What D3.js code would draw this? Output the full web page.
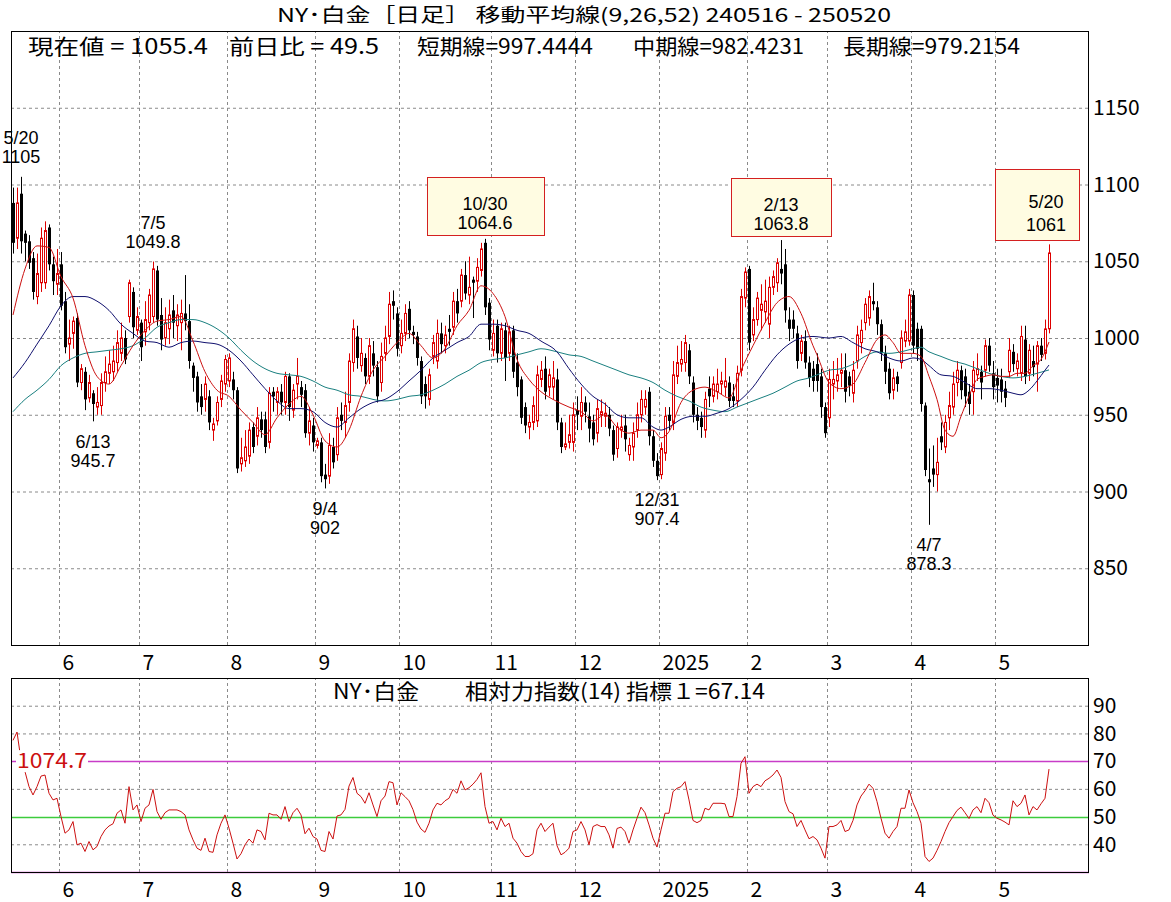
<!DOCTYPE html>
<html>
<head>
<meta charset="utf-8">
<script src="https://cdn.jsdelivr.net/npm/d3@7/dist/d3.min.js"></script>
<style>
  body { margin: 0; background: #fff; }
  svg { display: block; }
</style>
</head>
<body>
<svg id="chart"></svg>
<script>
// NY platinum, daily candles 2024-05-16 .. 2025-05-20, MA(9,26,52) + RSI(14)
var holidays = ['2024-07-04', '2024-12-25', '2025-01-01', '2025-04-18'];

// [open, high, low, close], one row per trading day
var candles = [
  [1088,1098,1055,1062],[1065,1098,1058,1088],[1094,1105,1055,1063],[1068,1070,1050,1062],[1063,1067,1045,1049],
  [1052,1056,1025,1030],[1027,1055,1022,1042],[1036,1072,1030,1065],[1036,1076,1032,1070],[1072,1074,1044,1048],
  [1048,1053,1028,1037],[1035,1058,1028,1042],[1048,1056,1018,1021],[1024,1030,990,994],[996,1012,985,1000],
  [1003,1014,993,1011],[1013,1016,968,971],[971,983,966,980],[978,981,953,960],[961,976,958,971],
  [964,966,945.7,957],[955,968,950,958],[956,977,950,971],[971,988,965,978],[977,992,970,983],
  [978,995,972,985],[984,1005,978,997],[990,1010,985,1000],[1000,1005,983,986],[1014,1038,1010,1036],
  [1030,1033,1000,1007],[1005,1020,1002,1014],[1010,1012,985,994],[1004,1024,995,1012],[1010,1032,1005,1028],
  [1014,1049.8,1010,1045],[1044,1047,1008,1012],[1015,1026,992,999],[1000,1020,995,1010],[1006,1025,996,1015],
  [1018,1028,1000,1010],[1008,1022,998,1015],[1010,1025,992,1016],[1016,1041,1005,1011],[1011,1022,980,985],
  [982,984,965,974],[975,978,952,958],[962,970,950,955],[960,975,952,970],[962,966,940,945],
  [940,948,933,944],[946,962,943,958],[960,976,955,972],[970,989,965,986],[972,990,968,987],
  [973,978,960,966],[966,968,912,915],[918,935,913,922],[920,940,916,929],[923,945,918,940],
  [942,945,925,929],[936,955,930,948],[947,952,935,940],[947,952,925,929],[932,968,928,964],
  [965,968,952,962],[958,968,950,965],[965,970,950,958],[958,978,950,975],[975,977,946,955],
  [953,970,948,966],[970,987,960,975],[968,972,955,963],[966,970,935,938],[938,955,930,946],
  [943,948,926,932],[930,935,928,933],[932,935,906,910],[911,918,902,908],[910,938,905,930],
  [929,935,915,919],[924,955,920,948],[950,958,940,946],[945,965,935,956],[958,990,952,985],
  [984,1012,978,1006],[1001,1008,980,987],[982,1000,978,990],[987,990,970,975],[975,1000,970,995],
  [990,998,975,982],[981,985,958,962],[971,997,965,988],[990,1008,985,1000],[1001,1030,996,1022],
  [1024,1031,1012,1021],[1016,1020,988,993],[995,1012,990,1003],[1003,1022,998,1016],[1019,1024,1000,1005],
  [1004,1008,996,1002],[1001,1004,982,987],[985,988,957,962],[970,975,954,962],[960,980,956,976],
  [988,1002,983,997],[985,1012,980,1003],[1003,1010,990,996],[995,1008,990,1002],[1006,1015,995,1004],
  [1007,1030,1002,1024],[1024,1032,1010,1016],[1024,1045,1020,1041],[1041,1050,1025,1029],[1028,1053,1022,1033],
  [1038,1040,1013,1036],[1037,1052,1030,1046],[1044,1062,1040,1058],[1062,1064.6,1015,1020],[1023,1026,992,999],
  [992,1012,988,1003],[1008,1012,984,990],[990,1010,985,1006],[1005,1010,972,987],[990,1008,985,1004],
  [1005,1008,974,978],[984,990,962,968],[973,975,944,948],[955,958,938,943],[942,950,934,945],
  [945,962,940,956],[946,982,942,976],[973,985,968,979],[980,988,960,965],[968,980,962,976],
  [968,985,960,974],[973,980,940,945],[945,948,925,929],[929,945,927,931],[932,950,928,937],
  [932,958,926,950],[953,962,940,950],[949,968,940,958],[958,962,945,952],[949,958,932,941],
  [945,950,930,934],[938,960,932,954],[950,960,942,952],[949,958,942,951],[950,955,936,941],
  [940,943,920,924],[928,945,922,942],[940,950,935,942],[943,950,926,934],[924,935,920,930],
  [929,945,920,938],[940,958,935,950],[950,966,945,960],[955,966,950,960],[965,968,930,936],
  [936,940,916,920],[920,925,907.4,910],[911,932,908,928],[925,955,920,949],[950,955,940,946],
  [945,985,940,976],[975,995,970,984],[983,998,978,986],[984,1002,978,997],[992,996,970,975],
  [971,975,945,950],[950,955,940,946],[948,952,935,942],[940,965,935,960],[967,975,955,962],
  [962,975,958,970],[965,980,960,970],[970,978,963,972],[968,987,962,972],[971,975,955,959],
  [962,970,955,959],[959,982,955,977],[979,1032,975,1027],[1026,1046,1020,1043],[1045,1047,992,997],
  [1002,1020,998,1012],[1012,1030,1008,1026],[1018,1035,1005,1022],[1017,1038,1010,1024],[1009,1040,1000,1033],
  [1033,1044,1028,1040],[1036,1052,1030,1049],[1045,1063.8,1035,1042],[1048,1058,1010,1018],[1012,1020,998,1006],
  [1012,1018,1000,1006],[1003,1008,980,985],[990,1002,985,998],[998,1005,980,984],[984,988,968,974],
  [980,985,965,972],[983,990,965,972],[975,980,948,955],[955,958,935,938],[948,980,942,973],
  [970,985,960,973],[972,987,965,976],[977,990,968,979],[979,990,958,965],[975,978,962,969],
  [964,985,958,979],[985,1008,980,1002],[997,1012,990,1005],[1010,1026,1005,1022],[1013,1031,1008,1027],
  [1024,1036,1018,1022],[1020,1024,1002,1009],[1009,1012,985,990],[990,995,970,978],[980,984,960,964],
  [966,980,960,974],[975,978,965,970],[984,1005,980,1000],[998,1012,994,1004],[998,1032,995,1028],
  [1028,1031,990,995],[1006,1010,985,993],[1006,1008,952,957],[956,958,910,914],[908,928,878.3,906],
  [915,930,903,911],[911,935,900,919],[936,945,927,932],[929,950,925,945],[948,965,940,956],
  [955,978,950,970],[971,985,962,979],[979,982,960,966],[975,980,955,962],[965,970,950,957],
  [965,985,950,979],[976,990,972,980],[978,982,960,971],[979,999,975,995],[995,1000,978,982],
  [977,985,960,968],[974,980,958,969],[973,980,958,965],[967,972,955,961],[978,1000,974,992],
  [991,996,978,983],[980,990,975,985],[977,1008,972,1001],[999,1008,970,975],[977,996,972,992],
  [985,995,975,981],[983,998,965,995],[995,1000,985,989],[990,1012,986,1005.9],[1006,1061,1003,1055.4]
];

// RSI(14), one value per trading day
var rsi = [
  77.5,80.5,70.4,66.2,60.8,57.8,60.8,64.6,65.0,58.4,56.0,56.6,50.0,44.0,45.2,48.2,39.8,40.4,37.4,41.0,
  38.0,39.2,42.8,45.2,46.6,47.4,51.2,52.4,47.6,60.8,52.4,54.2,48.2,53.0,54.2,59.8,51.8,49.0,51.4,52.4,
  52.4,52.4,51.8,50.6,45.2,41.6,38.6,37.8,42.2,37.4,37.1,43.4,47.6,50.6,45.8,40.4,34.7,36.6,39.8,41.9,
  40.4,45.2,44.6,41.6,51.2,50.6,50.6,49.0,53.6,48.2,51.4,53.0,50.6,43.8,45.8,42.8,41.9,37.8,37.4,44.6,
  41.9,50.2,50.6,52.6,61.0,64.1,58.4,57.2,54.8,58.6,54.2,50.0,55.7,57.4,62.6,62.2,54.2,58.6,57.2,55.7,
  52.5,48.0,45.5,44.3,47.6,52.4,54.8,54.2,55.7,56.6,59.8,58.4,62.9,59.6,60.4,61.7,63.4,65.8,53.6,47.6,
  48.2,45.2,49.4,46.4,47.6,42.2,40.4,37.4,35.6,35.6,36.6,45.2,47.6,44.6,46.2,47.6,39.5,36.2,37.1,38.6,
  44.6,45.2,48.2,45.2,39.8,46.4,47.1,46.4,46.4,43.4,38.6,45.7,46.2,44.6,40.4,45.2,49.4,53.4,51.4,47.0,
  42.2,39.0,45.2,51.2,51.2,59.0,60.2,60.8,62.6,56.0,48.6,47.8,48.6,53.0,52.4,54.8,54.8,54.8,54.6,50.0,
  50.0,57.2,69.2,71.6,58.4,60.8,61.7,60.8,62.9,63.8,65.0,66.8,64.1,55.4,51.8,51.0,46.4,48.6,45.2,42.0,
  42.8,41.6,38.6,35.0,46.4,46.4,47.0,48.6,44.6,45.2,48.6,54.2,57.4,59.3,61.7,60.2,55.4,49.4,44.0,42.2,
  44.6,46.4,53.0,53.0,59.6,55.0,51.8,47.6,35.6,33.8,35.0,37.8,41.0,44.6,47.8,50.0,52.2,53.4,51.4,49.3,
  52.4,53.6,51.4,56.6,55.0,50.5,49.4,48.8,48.0,47.0,55.7,53.6,54.8,57.8,50.6,53.6,52.4,54.6,56.6,67.14
];

// moving averages: [trading-day index, value]
var ma9 = [[0,1015],[3,1045],[6,1060],[9,1059],[12,1040],[15,1026],[18,995],[21,975],[24,970],[27,982],
  [30,995],[33,1005],[36,1011],[39,1012],[42,1014],[45,998],[48,978],[51,966],[54,962],[57,953],[60,945],
  [63,937],[66,948],[69,957],[72,962],[75,950],[78,933],[81,929],[84,940],[87,962],[90,979],[93,988],
  [96,997],[99,1003],[102,995],[105,987],[108,993],[111,1008],[114,1018],[117,1034],[120,1029],[123,1014],
  [126,986],[129,973],[132,965],[135,960],[139,955],[142,952],[145,946],[148,950],[151,942],[154,938],
  [157,940],[160,940],[162,935],[164,939],[167,958],[170,966],[173,968],[176,965],[179,961],[182,979],
  [185,995],[188,1010],[191,1023],[194,1027],[197,1016],[200,995],[201,989],[204,971],[207,967],[210,970],
  [213,984],[216,999],[218,1002],[220,997],[222,990],[225,990],[227,988],[229,975],[231,960],[233,940],
  [235,936],[237,949],[239,962],[241,973],[243,975],[245,976],[247,975],[249,975],[251,977],[253,977],
  [255,982],[257,986],[259,997.4]];
var ma26 = [[0,974],[3,984],[6,996],[9,1008],[12,1021],[15,1027],[18,1027],[21,1024],[24,1018],[27,1009],
  [30,1003],[33,998],[36,997],[39,994],[42,997],[45,998],[48,997],[51,996],[54,992],[57,985],[60,976],
  [63,967],[66,959],[69,954],[72,954],[75,952],[78,945],[81,942],[84,948],[87,954],[90,958],[93,960],
  [96,965],[99,972],[102,979],[105,987],[108,992],[111,997],[114,1001],[117,1009],[120,1009],[123,1008],
  [126,1005],[129,1003],[132,998],[136,991],[139,980],[142,970],[145,962],[148,957],[151,950],[154,948],
  [157,948],[160,942],[162,940],[164,942],[167,947],[170,949],[173,949],[176,951],[179,954],[182,960],
  [185,968],[188,979],[191,989],[194,996],[197,1000],[200,1001],[204,1000],[207,1001],[210,997],[213,993],
  [216,991],[219,987],[222,985],[225,987],[227,986],[229,982],[232,976],[235,975],[238,971],[241,967],
  [244,967],[247,966],[250,964],[252,963],[254,966],[256,972],[258,979],[259,982.4]];
var ma52 = [[0,952],[3,960],[6,966],[9,973],[12,982],[15,987],[18,990],[21,991],[24,992],[27,993],
  [30,995],[33,1000],[36,1007],[39,1010],[42,1012],[45,1012],[48,1010],[51,1006],[54,1000],[57,992],
  [60,985],[63,980],[66,977],[69,976],[72,975],[75,972],[78,968],[81,966],[84,963],[87,962],[90,960],
  [93,959],[96,960],[99,962],[102,963],[105,966],[108,970],[111,975],[114,979],[117,984],[120,986],
  [123,987],[126,989],[129,991],[132,993],[136,991],[139,989],[142,988],[145,985],[148,982],[151,979],
  [154,976],[157,974],[160,971],[163,966],[166,962],[169,959],[172,955],[175,953],[178,952],[181,955],
  [184,958],[187,961],[190,964],[193,968],[196,972],[199,974],[201,976],[204,979],[207,980],[210,983],
  [213,988],[216,991],[219,990],[222,991],[225,993],[227,994],[229,991],[232,988],[235,985],[238,983],
  [241,980],[244,977],[247,975],[250,974],[253,975],[256,977],[259,979.2]];

var priceTicks = [850, 900, 950, 1000, 1050, 1100, 1150];
var rsiTicks = [40, 50, 60, 70, 80, 90];
var rsiGridTicks = [40, 60, 80, 90];
var highMarks = ['2024-05-20', '2024-07-05', '2024-10-30', '2025-02-13', '2025-05-20'];
var lowMarks = ['2024-06-13', '2024-09-04', '2024-12-31', '2025-04-07'];

var lastPrice = 1055.4, dayChange = 49.5;
var maNow = [997.4444, 982.4231, 979.2154];
var rsiNow = 67.14;
var rsiRef = 1074.7;

// ---- trading calendar
var fmtKey = d3.timeFormat('%Y-%m-%d');
var dates = [];
for (var d = new Date(2024, 4, 16); d <= new Date(2025, 4, 20); d.setDate(d.getDate() + 1)) {
  var wd = d.getDay();
  if (wd > 0 && wd < 6 && holidays.indexOf(fmtKey(d)) < 0) dates.push(new Date(d));
}
var keyIndex = {};
dates.forEach(function(t, i) { keyIndex[fmtKey(t)] = i; });
var monthStarts = [];
dates.forEach(function(t, i) { if (i > 0 && t.getMonth() !== dates[i - 1].getMonth()) monthStarts.push(i); });
function monthLabel(i) { var t = dates[i]; return t.getMonth() === 0 ? String(t.getFullYear()) : String(t.getMonth() + 1); }

// ---- layout
var width = 1171, height = 902;
var main = {left: 11, right: 1089, top: 31, bottom: 645};
var sub = {top: 678, bottom: 872};
var FONT = '"Noto Sans CJK JP", "Noto Sans", sans-serif';
var SANS = '"Liberation Sans", Arial, sans-serif';
var UP = '#dd0000', GRID = '#8a8a8a';

var x = d3.scaleLinear().domain([-0.5, 269]).range([main.left, main.right]);
var y = d3.scaleLinear().domain([800, 1200]).range([main.bottom, main.top]);
var yr = d3.scaleLinear().domain([30, 100]).range([sub.bottom, sub.top]);

var svg = d3.select('#chart').attr('width', width).attr('height', height)
  .style('background', '#fff');

function dashed(g) {
  g.select('.domain').remove();
  g.selectAll('line').attr('stroke', GRID).attr('stroke-dasharray', '3,3');
}

// ---- title
svg.append('text')
  .attr('x', 584).attr('y', 22)
  .attr('text-anchor', 'middle')
  .attr('font-family', FONT).attr('font-size', 19)
  .attr('textLength', 614).attr('lengthAdjust', 'spacingAndGlyphs')
  .text('NY･白金［日足］ 移動平均線(9,26,52)  ' + d3.timeFormat('%y%m%d')(dates[0]) + ' - ' + d3.timeFormat('%y%m%d')(dates[dates.length - 1]));

// ---- main panel grid
svg.append('g')
  .attr('transform', 'translate(' + main.left + ',0)')
  .call(d3.axisRight(y).tickValues(priceTicks).tickSize(main.right - main.left).tickFormat(''))
  .call(dashed);

svg.append('g')
  .attr('transform', 'translate(0,' + main.bottom + ')')
  .call(d3.axisBottom(x).tickValues(monthStarts.map(function(i) { return i - 0.5; }))
    .tickSize(-(main.bottom - main.top)).tickFormat(''))
  .call(dashed);

// ---- header values
var header = [
  '現在値 = ' + lastPrice,
  '前日比 = ' + dayChange,
  '短期線=' + maNow[0],
  '中期線=' + maNow[1],
  '長期線=' + maNow[2]
];
var headerX = [28, 229, 417, 633, 843];
var headerW = [180, 150, 176, 171, 177];
svg.append('g').selectAll('text')
  .data(header)
  .join('text')
  .attr('x', function(d, i) { return headerX[i]; })
  .attr('y', 47).attr('dy', '0.35em')
  .attr('font-family', FONT).attr('font-size', 21)
  .attr('textLength', function(d, i) { return headerW[i]; })
  .attr('lengthAdjust', 'spacingAndGlyphs')
  .text(function(d) { return d; });

// ---- candles
var bar = svg.append('g')
  .selectAll('g')
  .data(candles)
  .join('g')
  .attr('transform', function(d, i) { return 'translate(' + Math.round(x(i)) + ',0)'; });

bar.append('line')
  .attr('x1', 0.5).attr('x2', 0.5)
  .attr('y1', function(d) { return y(d[1]); })
  .attr('y2', function(d) { return y(d[2]); })
  .attr('stroke', function(d) { return d[3] >= d[0] ? UP : '#000'; })
  .attr('stroke-width', 1);

bar.append('rect')
  .attr('x', function(d) { return d[3] >= d[0] ? -0.5 : -1; })
  .attr('width', function(d) { return d[3] >= d[0] ? 2 : 3; })
  .attr('y', function(d) { return y(Math.max(d[0], d[3])); })
  .attr('height', function(d) { return Math.max(1, Math.abs(y(d[0]) - y(d[3]))); })
  .attr('fill', function(d) { return d[3] >= d[0] ? '#fff' : '#000'; })
  .attr('stroke', function(d) { return d[3] >= d[0] ? UP : 'none'; })
  .attr('stroke-width', 1);

// ---- moving averages
var maLine = d3.line()
  .x(function(p) { return x(p[0]); })
  .y(function(p) { return y(p[1]); })
  .curve(d3.curveMonotoneX);
[[ma52, '#1a8080'], [ma26, '#10106e'], [ma9, '#cc1010']].forEach(function(s) {
  svg.append('path')
    .datum(s[0])
    .attr('d', maLine)
    .attr('fill', 'none')
    .attr('stroke', s[1])
    .attr('stroke-width', 1);
});

// ---- high / low annotations
var fmtMD = function(t) { return (t.getMonth() + 1) + '/' + t.getDate(); };
var boxLayout = {'2024-10-30': {w: 117, h: 58, dx: 0}, '2025-02-13': {w: 100, h: 58, dx: 0},
                 '2025-05-20': {w: 84, h: 71, dx: -12}};
var ann = svg.append('g');

highMarks.forEach(function(k) {
  var i = keyIndex[k], v = candles[i][1], cx = x(i), yy = y(v);
  var box = boxLayout[k];
  var lines = [fmtMD(dates[i]), String(v)];
  if (box) {
    var bx = Math.round(cx + box.dx - box.w / 2) + 0.5;
    var by = Math.round(yy - 4 - box.h) + 0.5;
    ann.append('rect')
      .attr('x', bx).attr('y', by).attr('width', box.w).attr('height', box.h)
      .attr('fill', '#fffce2').attr('stroke', '#d42020').attr('stroke-width', 1);
    var tall = box.h > 60;
    var tx = tall ? cx - 3 : cx;
    var t1 = tall ? 32 : 26, t2 = tall ? 55 : 45;
    ann.selectAll(null).data(lines).join('text')
      .attr('x', tx).attr('y', function(d, j) { return by + (j ? t2 : t1); })
      .attr('dy', '0.35em').attr('text-anchor', 'middle')
      .attr('font-family', SANS)
      .attr('font-size', 18)
      .text(function(d) { return d; });
  } else {
    ann.selectAll(null).data(lines).join('text')
      .attr('x', cx).attr('y', function(d, j) { return yy - (j ? 20 : 39); })
      .attr('dy', '0.35em').attr('text-anchor', 'middle')
      .attr('font-family', SANS).attr('font-size', 18)
      .text(function(d) { return d; });
  }
});

lowMarks.forEach(function(k) {
  var i = keyIndex[k], v = candles[i][2], cx = x(i), yy = y(v);
  ann.selectAll(null).data([fmtMD(dates[i]), String(v)]).join('text')
    .attr('x', cx).attr('y', function(d, j) { return yy + (j ? 39 : 20); })
    .attr('dy', '0.35em').attr('text-anchor', 'middle')
    .attr('font-family', SANS).attr('font-size', 18)
    .text(function(d) { return d; });
});

// ---- main panel frame and axes
svg.append('rect')
  .attr('x', main.left + 0.5).attr('y', main.top + 0.5)
  .attr('width', main.right - main.left - 1).attr('height', main.bottom - main.top)
  .attr('fill', 'none').attr('stroke', '#000');

svg.append('g')
  .attr('transform', 'translate(' + main.right + ',0)')
  .call(d3.axisRight(y).tickValues(priceTicks).tickSize(0).tickPadding(4).tickFormat(d3.format('d')))
  .call(function(g) { g.select('.domain').remove(); })
  .attr('font-family', FONT).attr('font-size', 21)
  .selectAll('text').attr('fill', '#000');

function monthAxis(yPos) {
  svg.append('g')
    .attr('transform', 'translate(0,' + yPos + ')')
    .call(d3.axisBottom(x).tickValues(monthStarts.map(function(i) { return i - 0.5; }))
      .tickSize(0).tickFormat(function(v) { return monthLabel(v + 0.5); }))
    .call(function(g) { g.select('.domain').remove(); })
    .attr('font-family', FONT).attr('font-size', 21)
    .selectAll('text')
    .attr('text-anchor', 'start').attr('dx', 3)
    .attr('y', 18).attr('dy', '0.35em').attr('fill', '#000');
}
monthAxis(main.bottom);

// ---- RSI panel
svg.append('g')
  .attr('transform', 'translate(' + main.left + ',0)')
  .call(d3.axisRight(yr).tickValues(rsiGridTicks).tickSize(main.right - main.left).tickFormat(''))
  .call(dashed);

svg.append('g')
  .attr('transform', 'translate(0,' + sub.bottom + ')')
  .call(d3.axisBottom(x).tickValues(monthStarts.map(function(i) { return i - 0.5; }))
    .tickSize(-(sub.bottom - sub.top)).tickFormat(''))
  .call(dashed);

[[70, '#c83cc8'], [30, '#c83cc8'], [50, '#3ccc3c']].forEach(function(r) {
  svg.append('line')
    .attr('x1', main.left).attr('x2', main.right)
    .attr('y1', Math.round(yr(r[0])) + 0.5).attr('y2', Math.round(yr(r[0])) + 0.5)
    .attr('stroke', r[1]).attr('stroke-width', 1.3);
});

svg.append('path')
  .datum(rsi)
  .attr('d', d3.line().x(function(v, i) { return x(i); }).y(function(v) { return yr(v); }))
  .attr('fill', 'none').attr('stroke', '#cc1010').attr('stroke-width', 1);

// reference label on the 70 line
svg.append('rect')
  .attr('x', 16).attr('y', yr(70) - 11).attr('width', 72).attr('height', 22)
  .attr('fill', '#fff');
svg.append('text')
  .attr('x', 17).attr('y', yr(70)).attr('dy', '0.35em')
  .attr('font-family', FONT).attr('font-size', 21).attr('fill', '#cc1010')
  .attr('textLength', 70).attr('lengthAdjust', 'spacingAndGlyphs')
  .text(rsiRef);

svg.append('text')
  .attr('x', 549).attr('y', 692).attr('dy', '0.35em')
  .attr('text-anchor', 'middle')
  .attr('font-family', FONT).attr('font-size', 21)
  .attr('textLength', 432).attr('lengthAdjust', 'spacingAndGlyphs')
  .text('NY･白金　　相対力指数(14) 指標１=' + rsiNow);

svg.append('rect')
  .attr('x', main.left + 0.5).attr('y', sub.top + 0.5)
  .attr('width', main.right - main.left - 1).attr('height', sub.bottom - sub.top)
  .attr('fill', 'none').attr('stroke', '#000');

svg.append('g')
  .attr('transform', 'translate(' + main.right + ',0)')
  .call(d3.axisRight(yr).tickValues(rsiTicks).tickSize(0).tickPadding(4))
  .call(function(g) { g.select('.domain').remove(); })
  .attr('font-family', FONT).attr('font-size', 21)
  .selectAll('text').attr('fill', '#000');

monthAxis(sub.bottom);
</script>
</body>
</html>
